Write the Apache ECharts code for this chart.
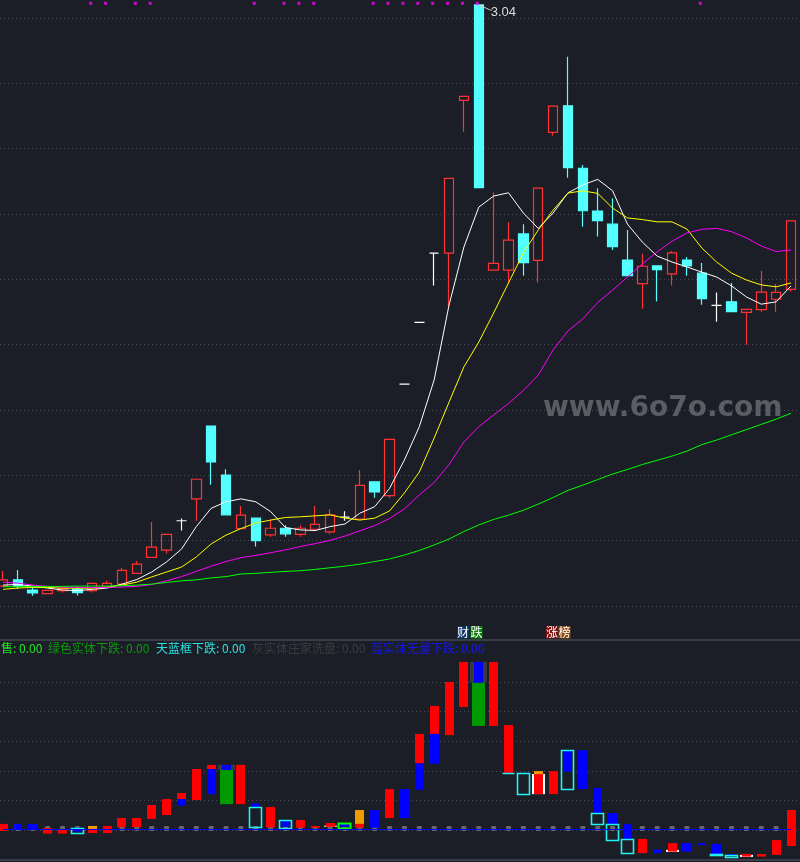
<!DOCTYPE html>
<html><head><meta charset="utf-8">
<script src="https://cdn.jsdelivr.net/npm/echarts@6/dist/echarts.min.js"></script>
<style>html,body{margin:0;padding:0;background:#1b1e26;}#c{width:800px;height:862px;}</style>
</head><body><div id="c"></div>
<script>
// ---------- data ----------
const categories = [];
for (let i = 1; i <= 54; i++) categories.push('D' + i);

// [open, close, low, high]
const candles = [
[1.261,1.280,1.258,1.307],[1.280,1.261,1.252,1.310],[1.249,1.240,1.231,1.258],[1.238,1.248,1.237,1.249],
[1.247,1.253,1.241,1.255],[1.251,1.241,1.232,1.259],[1.247,1.269,1.241,1.270],[1.257,1.269,1.257,1.277],
[1.267,1.309,1.267,1.316],[1.300,1.328,1.300,1.338],[1.349,1.380,1.349,1.457],[1.371,1.419,1.361,1.420],
[1.461,1.461,1.431,1.468],[1.528,1.588,1.461,1.588],[1.751,1.641,1.571,1.751],[1.601,1.479,1.479,1.619],
[1.437,1.478,1.437,1.506],[1.469,1.400,1.382,1.469],[1.418,1.438,1.412,1.465],[1.438,1.421,1.412,1.447],
[1.419,1.438,1.412,1.447],[1.435,1.450,1.429,1.506],[1.427,1.479,1.421,1.496],[1.472,1.472,1.461,1.490],
[1.466,1.569,1.466,1.616],[1.580,1.549,1.531,1.580],[1.538,1.710,1.531,1.710],[1.879,1.879,1.879,1.879],
[2.068,2.068,2.068,2.068],[2.280,2.280,2.181,2.280],[2.280,2.509,2.115,2.509],[2.748,2.760,2.652,2.760],
[3.040,2.481,2.481,3.040],[2.228,2.249,2.228,2.466],[2.228,2.320,2.188,2.375],[2.339,2.251,2.211,2.369],
[2.258,2.479,2.190,2.479],[2.650,2.730,2.640,2.730],[2.731,2.542,2.511,2.881],[2.540,2.410,2.361,2.550],
[2.409,2.380,2.331,2.479],[2.369,2.300,2.290,2.448],[2.259,2.211,2.211,2.351],[2.187,2.240,2.110,2.278],
[2.241,2.230,2.132,2.241],[2.217,2.281,2.181,2.287],[2.259,2.241,2.211,2.268],[2.219,2.141,2.122,2.250],
[2.120,2.120,2.070,2.160],[2.131,2.101,2.101,2.189],[2.099,2.108,2.000,2.108],[2.107,2.161,2.101,2.226],
[2.139,2.160,2.101,2.186],[2.169,2.379,2.162,2.379]
];

const ma5 = [1.264,1.266,1.261,1.255,1.249,1.247,1.251,1.255,1.267,1.281,1.304,1.335,1.374,1.443,1.499,1.519,1.528,1.519,1.489,1.440,1.433,1.431,1.443,1.451,1.484,1.504,1.560,1.647,1.749,1.892,2.121,2.299,2.421,2.455,2.465,2.403,2.356,2.403,2.465,2.489,2.506,2.471,2.369,2.314,2.271,2.253,2.238,2.222,2.207,2.180,2.146,2.124,2.131,2.180];
const ma10 = [1.251,1.255,1.257,1.257,1.255,1.254,1.255,1.258,1.264,1.273,1.289,1.304,1.319,1.350,1.390,1.417,1.437,1.454,1.463,1.471,1.473,1.476,1.479,1.469,1.463,1.469,1.491,1.546,1.610,1.714,1.824,1.932,2.008,2.097,2.189,2.281,2.351,2.412,2.464,2.471,2.463,2.418,2.388,2.383,2.376,2.376,2.354,2.296,2.253,2.219,2.198,2.183,2.177,2.189];
const ma30 = [1.273,1.270,1.264,1.260,1.258,1.257,1.257,1.257,1.258,1.260,1.266,1.277,1.290,1.306,1.322,1.336,1.348,1.355,1.363,1.372,1.382,1.391,1.401,1.414,1.430,1.446,1.468,1.497,1.540,1.578,1.633,1.702,1.749,1.785,1.820,1.860,1.907,1.984,2.042,2.079,2.129,2.167,2.207,2.247,2.284,2.317,2.342,2.353,2.356,2.346,2.327,2.302,2.285,2.290];
const ma60 = [1.259,1.259,1.260,1.260,1.260,1.261,1.261,1.261,1.262,1.264,1.267,1.272,1.277,1.280,1.286,1.290,1.298,1.300,1.303,1.306,1.308,1.312,1.317,1.322,1.328,1.336,1.344,1.356,1.370,1.387,1.405,1.428,1.448,1.465,1.478,1.493,1.512,1.532,1.554,1.570,1.587,1.604,1.618,1.633,1.646,1.659,1.674,1.694,1.708,1.724,1.740,1.756,1.772,1.790];

// top signal flags (day indices)
const signalDays = [6,7,9,10,17,19,20,21,25,26,27,28,29,30,31,32,47];

// lower indicator: [dayIndex, from, to]
const graySeg = [[15,20.2,21.9],[32,49.8,56.8]];
const whiteSeg = [[22,1.0,1.3],[36,12.0,18.8],[45,-7.6,-6.9],[50,-9.3,-8.6]];
const greenSeg = [[15,8.6,20.2],[32,35.1,49.8]];
const redSeg = [[0,-0.5,1.9],[3,-1.4,0.5],[4,-1.4,0.1],[6,-1.2,0.2],[7,-1.2,1.2],[8,0.8,3.9],[9,0.8,3.9],[10,3.6,8.3],[11,4.9,10.3],[12,10.3,12.4],[13,10.0,20.5],[14,20.5,21.9],[16,8.6,21.9],[18,0.7,7.6],[20,0.6,3.2],[21,0.6,1.2],[22,0.9,2.2],[24,0.6,1.9],[26,3.9,13.7],[28,22.4,32.4],[29,32.4,41.9],[30,32.0,50.0],[31,41.5,56.8],[33,35.1,56.8],[34,19.2,35.4],[36,12.0,18.8],[37,12.0,19.8],[43,-8.0,-3.2],[45,-7.5,-4.6],[50,-9.2,-8.3],[51,-9.2,-8.3],[52,-8.6,-3.6],[53,-5.6,6.6]];
const blueSeg = [[1,0.1,1.9],[2,0.1,1.9],[5,-0.7,0.6],[12,8.1,10.3],[14,12.0,20.5],[15,20.2,21.9],[17,7.3,8.9],[19,0.9,3.2],[23,0.9,2.2],[25,0.6,6.6],[27,3.9,13.7],[28,13.5,22.4],[29,22.3,32.4],[32,49.8,56.8],[35,18.9,19.2],[38,19.6,26.9],[39,13.7,26.9],[40,5.4,14.1],[41,1.8,5.6],[42,-3.5,1.8],[44,-8.0,-6.8],[46,-7.5,-4.6],[47,-5.3,-4.6],[48,-8.5,-4.9],[49,-8.9,-8.3]];
const orangeSeg = [[6,0.2,1.2],[24,1.9,6.6],[36,18.8,19.8]];
const cyanFrame = [[5,-1.1,0.5],[17,0.9,7.6],[19,0.6,3.2],[34,19.1,19.1],[35,12.1,19.2],[38,13.8,26.9],[40,1.8,5.6],[41,-3.5,1.8],[42,-7.9,-3.2],[48,-8.9,-8.4],[49,-9.3,-8.6]];
const greenFrame = [[23,0.6,2.2]];
const markerLevel = categories.map(() => 0);

// ---------- styles ----------
const kinds = [
  {c:'#3a3a3a', w:17},            // gray
  {c:'#ffffff', w:13},            // white
  {c:'#009a00', w:13},            // green
  {c:'#ff0000', w:9},             // red
  {c:'#0000ff', w:9},             // blue
  {c:'#f09c00', w:9},             // orange
  {c:'#22f2f2', w:13, frame:true, lw:1.6}, // cyan frame
  {c:'#00ff00', w:13, frame:true, lw:2}    // green frame
];
const segGroups = [graySeg, whiteSeg, greenSeg, redSeg, blueSeg, orangeSeg, cyanFrame, greenFrame];
const segData = [];
segGroups.forEach((g, k) => g.forEach(s => segData.push([s[0], s[1], s[2], k])));

const hiIdx = candles.reduce((b, c, i) => c[3] > candles[b][3] ? i : b, 0);

const dotted = {color:'#474c57', type:[1,3], width:1};
const dataGrid = {left:3, right:9};
const hiddenCat = (gi) => ({type:'category', data:categories, gridIndex:gi, boundaryGap:false, show:false});

const chart = echarts.init(document.getElementById('c'));
chart.setOption({
  backgroundColor:'#1b1e26',
  animation:false,
  grid:[
    Object.assign({top:0, bottom:256}, dataGrid),          // 0 main data
    Object.assign({top:640, bottom:2}, dataGrid),          // 1 lower data
    Object.assign({top:0, height:6.6}, dataGrid),          // 2 signal row
    {left:0, right:0, top:18, bottom:256},                 // 3 main gridlines
    {left:0, right:0, top:652.5, bottom:2.5},              // 4 lower gridlines
    {left:0, right:0, top:640, bottom:2}                   // 5 lower frame
  ],
  xAxis:[
    hiddenCat(0), hiddenCat(1), hiddenCat(2), hiddenCat(3), hiddenCat(4),
    {type:'category', data:categories, gridIndex:5, position:'bottom', boundaryGap:false,
      axisLine:{show:true, onZero:false, lineStyle:{color:'#434854', width:1.5}}, axisTick:{show:false}, axisLabel:{show:false}},
    {type:'category', data:categories, gridIndex:5, position:'top', boundaryGap:false,
      axisLine:{show:true, onZero:false, lineStyle:{color:'#434854', width:1.5}}, axisTick:{show:false}, axisLabel:{show:false}}
  ],
  yAxis:[
    {type:'value', gridIndex:0, min:1.2, max:3.0551, show:false},
    {type:'value', gridIndex:1, min:-10.34, max:64.24, show:false},
    {type:'value', gridIndex:2, min:0, max:2, show:false},
    {type:'value', gridIndex:3, min:1.2, max:3.0, interval:0.2,
      axisLine:{show:false}, axisTick:{show:false}, axisLabel:{show:false},
      splitLine:{show:true, lineStyle:dotted}},
    {type:'value', gridIndex:4, min:-10, max:60, interval:10,
      axisLine:{show:false}, axisTick:{show:false}, axisLabel:{show:false},
      splitLine:{show:true, showMinLine:false, showMaxLine:false, lineStyle:dotted}},
    {type:'value', gridIndex:5, min:0, max:1, show:false}
  ],
  series:[
    {
      type:'candlestick', xAxisIndex:0, yAxisIndex:0, data:candles, barWidth:10, clip:false,
      itemStyle:{color:'transparent', color0:'#54FFFF', borderColor:'#FF3232', borderColor0:'#54FFFF', borderColorDoji:'#FFFFFF', borderWidth:1.2},
      markPoint:{
        symbol:'path://M0,0 L4.5,0.2 L3.6,1.1 L13,5.2 L12.6,6 L3.2,1.9 L2.6,3.2 Z',
        symbolSize:[13,6], symbolOffset:[6.5,3],
        itemStyle:{color:'#d0d0d0'},
        label:{show:true, position:'right', distance:0, offset:[-1,4], color:'#dcdcdc', fontSize:13, fontFamily:'Liberation Sans',
          formatter:() => candles[hiIdx][3].toFixed(2)},
        data:[{coord:[hiIdx, candles[hiIdx][3]]}]
      }
    },
    {type:'line', xAxisIndex:0, yAxisIndex:0, data:ma5, symbol:'none', lineStyle:{color:'#ffffff', width:1}, z:3},
    {type:'line', xAxisIndex:0, yAxisIndex:0, data:ma10, symbol:'none', lineStyle:{color:'#ffff00', width:1}, z:3},
    {type:'line', xAxisIndex:0, yAxisIndex:0, data:ma30, symbol:'none', lineStyle:{color:'#ff00ff', width:1}, z:3},
    {type:'line', xAxisIndex:0, yAxisIndex:0, data:ma60, symbol:'none', lineStyle:{color:'#00ff00', width:1}, z:3},
    {type:'scatter', xAxisIndex:2, yAxisIndex:2, data:signalDays.map(i => [i, 1]),
      symbol:'rect', symbolSize:3, symbolOffset:[-1.5,0], itemStyle:{color:'#ff00ff'}},
    {type:'scatter', xAxisIndex:1, yAxisIndex:1, data:markerLevel, symbol:'roundRect', symbolSize:[5,5], symbolOffset:[0,-1],
      itemStyle:{color:'#7c7c7c'}, z:1},
    {
      type:'custom', xAxisIndex:1, yAxisIndex:1, data:segData, z:2, clip:false,
      encode:{x:0, y:[1,2]},
      renderItem:(params, api) => {
        const i = api.value(0), lo = api.value(1), hi = api.value(2), st = kinds[api.value(3)];
        const p1 = api.coord([i, hi]), p2 = api.coord([i, lo]);
        const x = Math.round(p1[0] - st.w / 2);
        const y = p1[1], h = Math.max(p2[1] - p1[1], 0);
        if (st.frame) {
          return {type:'rect', shape:{x:x + 0.5, y:Math.round(y) + 0.5, width:st.w - 1, height:Math.round(h)},
            style:{fill:'none', stroke:st.c, lineWidth:st.lw}};
        }
        return {type:'rect', shape:{x:x, y:y, width:st.w, height:Math.max(h, 1)}, style:{fill:st.c}};
      }
    },
    {type:'line', xAxisIndex:1, yAxisIndex:1, data:markerLevel, symbol:'none', lineStyle:{color:'#0000ff', width:1}, z:5}
  ],
  graphic:[
    {type:'text', x:543, y:409, z:1, style:{text:'www.6o7o.com', fill:'#5a5d63', fontSize:28, fontWeight:'bold', fontFamily:'DejaVu Sans', verticalAlign:'middle'}},
    {type:'text', x:1, y:648, style:{text:'售: 0.00', fill:'#1ee61e', fontSize:12, fontFamily:'Noto Sans CJK SC', verticalAlign:'middle'}},
    {type:'text', x:48, y:648, style:{text:'绿色实体下跌: 0.00', fill:'#0a9a0a', fontSize:12, fontFamily:'Noto Sans CJK SC', verticalAlign:'middle'}},
    {type:'text', x:156, y:648, style:{text:'天蓝框下跌: 0.00', fill:'#2ee0e0', fontSize:12, fontFamily:'Noto Sans CJK SC', verticalAlign:'middle'}},
    {type:'text', x:252, y:648, style:{text:'灰实体庄家洗盘: 0.00', fill:'#3c3d40', fontSize:12, fontFamily:'Noto Sans CJK SC', verticalAlign:'middle'}},
    {type:'text', x:371, y:648, style:{text:'蓝实体无量下跌: 0.00', fill:'#1616e8', fontSize:12, fontFamily:'Noto Sans CJK SC', verticalAlign:'middle'}},
    {type:'text', x:457, y:626, style:{text:'财', fill:'#ffffff', backgroundColor:'#0e3468', fontSize:12, lineHeight:12.5, fontFamily:'Noto Sans CJK SC', verticalAlign:'top'}},
    {type:'text', x:470.5, y:626, style:{text:'跌', fill:'#ffffff', backgroundColor:'#0a7d0a', fontSize:12, lineHeight:12.5, fontFamily:'Noto Sans CJK SC', verticalAlign:'top'}},
    {type:'text', x:546, y:626, style:{text:'涨', fill:'#ffffff', backgroundColor:'#7d0c0c', fontSize:12, lineHeight:12.5, fontFamily:'Noto Sans CJK SC', verticalAlign:'top'}},
    {type:'text', x:558.5, y:626, style:{text:'榜', fill:'#ffffff', backgroundColor:'#8a4a12', fontSize:12, lineHeight:12.5, fontFamily:'Noto Sans CJK SC', verticalAlign:'top'}}
  ]
});
</script>
</body></html>
